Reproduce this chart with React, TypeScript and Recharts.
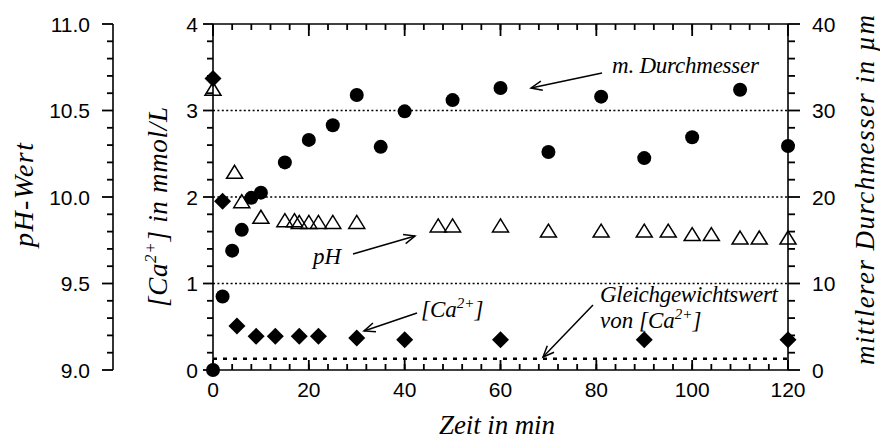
import { ScatterChart, Scatter, XAxis, YAxis, ReferenceLine, Customized } from "recharts";

// Messreihe: Zeit in min gegen mittleren Durchmesser in µm
const durchmesserZeit = [0, 2, 4, 6, 8, 10, 15, 20, 25, 30, 35, 40, 50, 60, 70, 81, 90, 100, 110, 120];
const durchmesserWerte = [0, 8.5, 13.8, 16.2, 19.9, 20.5, 24.0, 26.6, 28.3, 31.8, 25.8, 29.9, 31.2, 32.6, 25.2, 31.6, 24.5, 26.9, 32.4, 25.9];

// [Ca2+] in mmol/L
const calciumZeit = [0, 2, 5, 9, 13, 18, 22, 30, 40, 60, 90, 120];
const calciumWerte = [3.37, 1.95, 0.51, 0.39, 0.39, 0.39, 0.39, 0.37, 0.35, 0.35, 0.35, 0.35];

// pH-Wert
const phZeit = [0, 4.5, 6, 10, 15, 17, 18, 20, 22, 25, 30, 47, 50, 60, 70, 81, 90, 95, 100, 104, 110, 114, 120];
const phWerte = [10.62, 10.14, 9.97, 9.88, 9.86, 9.86, 9.85, 9.85, 9.85, 9.85, 9.85, 9.83, 9.83, 9.83, 9.8, 9.8, 9.8, 9.8, 9.78, 9.78, 9.76, 9.76, 9.76];

const gleichgewichtCa = 0.13;
const caGitter = [1, 2, 3];

const zeitTicks = [0, 4, 8, 12, 16, 20, 24, 28, 32, 36, 40, 44, 48, 52, 56, 60, 64, 68, 72, 76, 80, 84, 88, 92, 96, 100, 104, 108, 112, 116, 120];
const zeitLabels = [0, 20, 40, 60, 80, 100, 120];
const caTicks = [0, 0.2, 0.4, 0.6, 0.8, 1, 1.2, 1.4, 1.6, 1.8, 2, 2.2, 2.4, 2.6, 2.8, 3, 3.2, 3.4, 3.6, 3.8, 4];
const caLabels = [0, 1, 2, 3, 4];
const phTicks = [9.0, 9.1, 9.2, 9.3, 9.4, 9.5, 9.6, 9.7, 9.8, 9.9, 10.0, 10.1, 10.2, 10.3, 10.4, 10.5, 10.6, 10.7, 10.8, 10.9, 11.0];
const phLabels = [9.0, 9.5, 10.0, 10.5, 11.0];
const dTicks = [0, 2, 4, 6, 8, 10, 12, 14, 16, 18, 20, 22, 24, 26, 28, 30, 32, 34, 36, 38, 40];
const dLabels = [0, 10, 20, 30, 40];

const zip = (xs: number[], ys: number[]) => xs.map((x, i) => ({ x, y: ys[i] }));
const durchmesserDaten = zip(durchmesserZeit, durchmesserWerte);
const calciumDaten = zip(calciumZeit, calciumWerte);
const phDaten = zip(phZeit, phWerte);

const sans = { fontFamily: "'Liberation Sans', Arial, sans-serif", fontSize: 21, fill: "#000" };
const serif = "'Liberation Serif', 'Times New Roman', serif";
const achse = { stroke: "#000", strokeWidth: 1.6 };
const strich = { stroke: "#000", strokeWidth: 1.8 };
const TW = 1.8; // Strichstärke der Teilstriche

const isIn = (list: number[], v: number) => list.some((l) => Math.abs(l - v) < 1e-6);

// Teilstriche als gefüllte Rechtecke, Hauptstriche länger und beschriftet
function leftTick(labels: number[], digits: number, majorLen: number, gap: number) {
  return (props: any) => {
    const { x, y, payload } = props;
    const major = isIn(labels, payload.value);
    const len = major ? majorLen : 6;
    return (
      <g>
        <rect x={x - len} y={y - TW / 2} width={len} height={TW} fill="#000" />
        {major && (
          <text x={x - gap} y={y} dy="0.36em" textAnchor="end" style={sans}>
            {payload.value.toFixed(digits)}
          </text>
        )}
      </g>
    );
  };
}

function rightTick(props: any) {
  const { x, y, payload } = props;
  const major = isIn(dLabels, payload.value);
  const len = major ? 12 : 7;
  return (
    <g>
      <rect x={x} y={y - TW / 2} width={len} height={TW} fill="#000" />
      {major && (
        <text x={x + 24} y={y} dy="0.36em" textAnchor="start" style={sans}>
          {payload.value}
        </text>
      )}
    </g>
  );
}

// x-Achsen: kurze Striche kommen von der Achse selbst (nach innen), die Hauptstriche werden verlängert
function bottomTick(props: any) {
  const { x, y, payload } = props;
  const major = isIn(zeitLabels, payload.value);
  return (
    <g>
      {major && <rect x={x - TW / 2} y={y - 10} width={TW} height={10} fill="#000" />}
      {major && (
        <text x={x} y={y + 27} textAnchor="middle" style={sans}>
          {payload.value}
        </text>
      )}
    </g>
  );
}

function topTick(props: any) {
  const { x, y, payload } = props;
  const major = isIn(zeitLabels, payload.value);
  return major ? <rect x={x - TW / 2} y={y} width={TW} height={12} fill="#000" /> : <g />;
}

const Kreis = (p: any) => <circle cx={p.cx} cy={p.cy} r={7} fill="#000" />;
const Raute = (p: any) => (
  <polygon points={`${p.cx},${p.cy - 8.5} ${p.cx + 8.5},${p.cy} ${p.cx},${p.cy + 8.5} ${p.cx - 8.5},${p.cy}`} fill="#000" />
);
const Dreieck = (p: any) => (
  <polygon
    points={`${p.cx},${p.cy - 7.5} ${p.cx + 8},${p.cy + 5.5} ${p.cx - 8},${p.cy + 5.5}`}
    fill="none"
    stroke="#000"
    strokeWidth={1.5}
  />
);

function Pfeil({ x1, y1, x2, y2 }: { x1: number; y1: number; x2: number; y2: number }) {
  const a = Math.atan2(y2 - y1, x2 - x1);
  const len = 12;
  const s = 0.4;
  const p1 = `${x2 - len * Math.cos(a - s)},${y2 - len * Math.sin(a - s)}`;
  const p2 = `${x2 - len * Math.cos(a + s)},${y2 - len * Math.sin(a + s)}`;
  return (
    <g stroke="#000" strokeWidth={1.5} fill="none">
      <line x1={x1} y1={y1} x2={x2} y2={y2} />
      <polyline points={`${p1} ${x2},${y2} ${p2}`} />
    </g>
  );
}

const kursiv = { fontFamily: serif, fontStyle: "italic" as const, fill: "#000" };

function Beschriftung() {
  return (
    <g>
      {/* Achsentitel */}
      <text x={497} y={434} textAnchor="middle" fontSize={27} textLength={116} style={kursiv}>
        Zeit in min
      </text>
      <text transform="translate(33,195) rotate(-90)" textAnchor="middle" fontSize={28} textLength={104} style={kursiv}>
        pH-Wert
      </text>
      <text transform="translate(167,207) rotate(-90)" textAnchor="middle" fontSize={27} textLength={200} style={kursiv}>
        [Ca<tspan dy={-11} fontSize={17}>2+</tspan>
        <tspan dy={11}>] in mmol/L</tspan>
      </text>
      <text transform="translate(874,190) rotate(-90)" textAnchor="middle" fontSize={27} textLength={350} style={kursiv}>
        mittlerer Durchmesser in µm
      </text>

      {/* Hinweise im Diagramm */}
      <text x={612} y={73} fontSize={23} textLength={147} style={kursiv}>
        m. Durchmesser
      </text>
      <Pfeil x1={602} y1={73} x2={531} y2={88} />

      <text x={313} y={264} fontSize={23} style={kursiv}>
        pH
      </text>
      <Pfeil x1={353} y1={254} x2={415} y2={236} />

      <text x={421} y={317} fontSize={23} style={kursiv}>
        [Ca<tspan dy={-9} fontSize={15}>2+</tspan>
        <tspan dy={9}>]</tspan>
      </text>
      <Pfeil x1={417} y1={313} x2={364} y2={331} />

      <text x={600} y={302} fontSize={23} textLength={178} style={kursiv}>
        Gleichgewichtswert
      </text>
      <text x={600} y={328} fontSize={23} style={kursiv}>
        von [Ca<tspan dy={-9} fontSize={15}>2+</tspan>
        <tspan dy={9}>]</tspan>
      </text>
      <Pfeil x1={593} y1={305} x2={543} y2={357} />
    </g>
  );
}

export default function App() {
  return (
    <div style={{ position: "absolute", left: 0, top: 0, width: 880, height: 445, background: "#fff" }}>
      <ScatterChart width={880} height={445} margin={{ top: 23, right: 0, bottom: 0, left: 0 }}>
        <XAxis
          xAxisId="b"
          dataKey="x"
          type="number"
          domain={[0, 120]}
          ticks={zeitTicks}
          interval={0}
          tickSize={-6}
          tickMargin={6}
          tickLine={strich}
          axisLine={achse}
          tick={bottomTick}
          height={75}
        />
        <XAxis
          xAxisId="t"
          orientation="top"
          dataKey="x"
          type="number"
          domain={[0, 120]}
          allowDataOverflow
          ticks={zeitTicks}
          interval={0}
          tickSize={-6}
          tickMargin={6}
          tickLine={strich}
          axisLine={achse}
          tick={topTick}
          height={1}
        />
        <YAxis
          yAxisId="ca"
          dataKey="y"
          type="number"
          domain={[0, 4]}
          ticks={caTicks}
          interval={0}
          tickSize={0}
          tickMargin={0}
          tickLine={false}
          axisLine={achse}
          tick={leftTick(caLabels, 0, 10, 15)}
          width={100}
        />
        <YAxis
          yAxisId="ph"
          dataKey="y"
          type="number"
          domain={[9, 11]}
          ticks={phTicks}
          interval={0}
          tickSize={0}
          tickMargin={0}
          tickLine={false}
          axisLine={achse}
          tick={leftTick(phLabels, 1, 11, 23)}
          width={113}
        />
        <YAxis
          yAxisId="d"
          orientation="right"
          dataKey="y"
          type="number"
          domain={[0, 40]}
          ticks={dTicks}
          interval={0}
          tickSize={0}
          tickMargin={0}
          tickLine={false}
          axisLine={achse}
          tick={rightTick}
          width={92}
        />

        {caGitter.map((v) => (
          <ReferenceLine key={v} xAxisId="b" yAxisId="ca" y={v} stroke="#000" strokeWidth={1.6} strokeDasharray="2 2.4" />
        ))}
        <ReferenceLine xAxisId="b" yAxisId="ca" y={gleichgewichtCa} stroke="#000" strokeWidth={2.4} strokeDasharray="4 6" />

        <Scatter data={phDaten} xAxisId="b" yAxisId="ph" shape={Dreieck} isAnimationActive={false} />
        <Scatter data={calciumDaten} xAxisId="b" yAxisId="ca" shape={Raute} isAnimationActive={false} />
        <Scatter data={durchmesserDaten} xAxisId="b" yAxisId="d" shape={Kreis} isAnimationActive={false} />

        <Customized component={Beschriftung} />
      </ScatterChart>
    </div>
  );
}
